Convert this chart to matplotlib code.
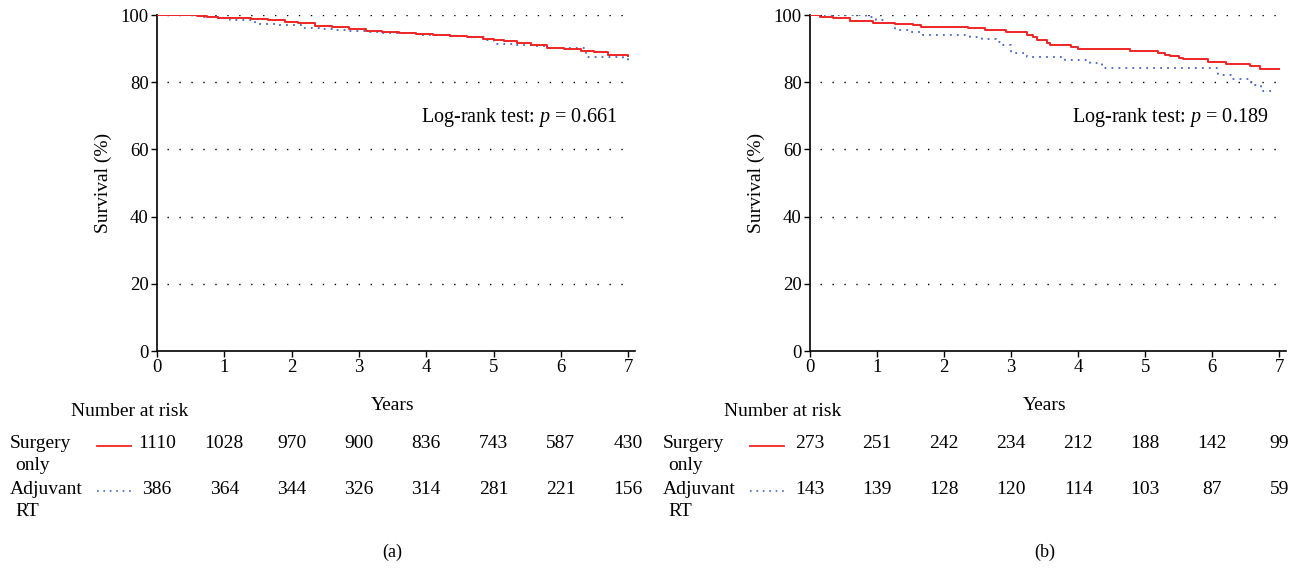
import matplotlib
matplotlib.use("Agg")
import matplotlib.pyplot as plt
from matplotlib.transforms import blended_transform_factory

plt.rcParams['font.family'] = ['Liberation Serif', 'DejaVu Serif']
plt.rcParams['mathtext.fontset'] = 'custom'
plt.rcParams['mathtext.it'] = 'Liberation Serif:italic'
plt.rcParams['mathtext.rm'] = 'Liberation Serif'

# panel (a) curves: step times (years) and survival (%)
a_surg_t = [0, 0.35, 0.6, 0.75, 0.9, 1.1, 1.4, 1.65, 1.9, 2.1, 2.35, 2.6, 2.85, 3.1, 3.35,
            3.6, 3.85, 4.1, 4.35, 4.6, 4.85, 5.0, 5.15, 5.35, 5.55, 5.8, 6.05, 6.3, 6.5, 6.7, 7.0]
a_surg_s = [100, 99.9, 99.7, 99.4, 99.2, 99.0, 98.8, 98.5, 98.0, 97.5, 96.8, 96.3, 95.7, 95.1, 94.8,
            94.6, 94.4, 94.1, 93.8, 93.4, 93.0, 92.7, 92.2, 91.6, 91.0, 90.2, 89.9, 89.3, 88.9, 88.2, 87.8]
a_rt_t = [0, 0.7, 0.9, 1.08, 1.46, 1.75, 2.17, 2.4, 2.6, 2.85, 3.1, 3.36, 3.86, 4.35, 4.6,
          4.9, 5.0, 5.3, 5.55, 5.8, 6.38, 6.93, 7.0]
a_rt_s = [100, 99.5, 99.2, 98.5, 97.3, 97.0, 96.0, 95.8, 95.5, 95.2, 94.8, 94.5, 94.2, 93.8, 93.4,
          92.5, 91.5, 91.2, 90.7, 90.1, 87.4, 86.8, 86.3]

# panel (b) curves
b_surg_t = [0, 0.15, 0.35, 0.6, 0.94, 1.27, 1.54, 1.66, 2.36, 2.61, 2.93, 3.23, 3.33, 3.38, 3.53,
            3.58, 3.9, 4.0, 4.77, 5.19, 5.29, 5.37, 5.5, 5.57, 5.93, 6.2, 6.56, 6.71, 7.0]
b_surg_s = [100, 99.5, 99.2, 98.2, 97.7, 97.3, 97.0, 96.5, 96.0, 95.5, 94.8, 94.2, 93.5, 92.5, 91.7,
            91.0, 90.5, 89.8, 89.3, 88.7, 88.2, 87.8, 87.3, 86.8, 86.1, 85.5, 84.8, 84.0, 84.0]
b_rt_t = [0, 0.84, 0.99, 1.14, 1.27, 1.49, 1.69, 2.38, 2.56, 2.78, 2.88, 3.0, 3.23, 3.81, 4.17,
          4.36, 6.08, 6.3, 6.55, 6.62, 6.72, 6.95]
b_rt_s = [100, 99.5, 98.5, 97.5, 95.5, 94.8, 94.2, 93.5, 92.8, 92.0, 91.0, 88.6, 87.4, 86.6, 85.8,
          84.3, 82.2, 81.1, 80.1, 79.1, 77.4, 77.4]

years = [0, 1, 2, 3, 4, 5, 6, 7]
a_risk_surg = [1110, 1028, 970, 900, 836, 743, 587, 430]
a_risk_rt = [386, 364, 344, 326, 314, 281, 221, 156]
b_risk_surg = [273, 251, 242, 234, 212, 188, 142, 99]
b_risk_rt = [143, 139, 128, 120, 114, 103, 87, 59]

a_pval = "0.661"
b_pval = "0.189"

RED = '#f02424'
BLUE = '#4464c8'
FS = 14

fig = plt.figure(figsize=(13.02, 5.73), dpi=100)


def fy(px):
    # pixel row (from top) to figure fraction
    return 1 - px / 573.0


def draw_panel(rect, surg, rt, risk_surg, risk_rt, pval, tag, left_px):
    ax = fig.add_axes(rect)
    ax.set_xlim(0, 7.1)
    ax.set_ylim(0, 100)
    for yv in [20, 40, 60, 80, 100]:
        ax.hlines(yv, 0.15, 7.0, colors='black', linewidth=1.0,
                  linestyles=(0, (1, 7.6)), zorder=1)
    ax.step(surg[0], surg[1], where='post', color=RED, linewidth=1.4, zorder=3)
    ax.step(rt[0], rt[1], where='post', color=BLUE, linewidth=1.3,
            linestyle=(0, (1, 2.85)), zorder=2)

    for s in ['top', 'right']:
        ax.spines[s].set_visible(False)
    for s in ['left', 'bottom']:
        ax.spines[s].set_linewidth(1.2)
    ax.set_xticks(years)
    ax.set_yticks([0, 20, 40, 60, 80, 100])
    ax.tick_params(direction='out', length=4, width=1, labelsize=13.5, pad=2)
    ax.set_ylabel('Survival (%)', fontsize=FS, labelpad=6)

    ax.text(6.83, 69.6, 'Log-rank test: $p$ = ' + pval, ha='right', va='center',
            fontsize=14.5)

    tr = blended_transform_factory(ax.transData, fig.transFigure)
    ax.text(3.5, fy(405), 'Years', transform=tr, ha='center', va='center', fontsize=FS)
    ax.text(3.5, fy(552), tag, transform=tr, ha='center', va='center', fontsize=13)

    fx = left_px / 1302.0
    fig.text((left_px + 120) / 1302.0, fy(411), 'Number at risk', ha='center',
             va='center', fontsize=FS)
    fig.text(fx, fy(443), 'Surgery', ha='left', va='center', fontsize=FS)
    fig.text(fx + 0.004, fy(466), 'only', ha='left', va='center', fontsize=FS)
    fig.text(fx, fy(489), 'Adjuvant', ha='left', va='center', fontsize=FS)
    fig.text(fx + 0.004, fy(512), 'RT', ha='left', va='center', fontsize=FS)
    x0 = (left_px + 87) / 1302.0
    x1 = (left_px + 121) / 1302.0
    fig.add_artist(plt.Line2D([x0, x1], [fy(446), fy(446)],
                              color=RED, linewidth=1.3, transform=fig.transFigure))
    fig.add_artist(plt.Line2D([x0, x1], [fy(491), fy(491)],
                              color=BLUE, linewidth=1.2, linestyle=(0, (1, 2.85)),
                              transform=fig.transFigure))
    for yr, n1, n2 in zip(years, risk_surg, risk_rt):
        ax.text(yr, fy(444), str(n1), transform=tr, ha='center', va='center', fontsize=FS)
        ax.text(yr, fy(489), str(n2), transform=tr, ha='center', va='center', fontsize=FS)
    return ax


draw_panel([0.1206, 0.3874, 0.367, 0.5864], (a_surg_t, a_surg_s), (a_rt_t, a_rt_s),
           a_risk_surg, a_risk_rt, a_pval, '(a)', 10)
draw_panel([0.6221, 0.3874, 0.3656, 0.5864], (b_surg_t, b_surg_s), (b_rt_t, b_rt_s),
           b_risk_surg, b_risk_rt, b_pval, '(b)', 663)

fig.savefig('out.png', dpi=100)
